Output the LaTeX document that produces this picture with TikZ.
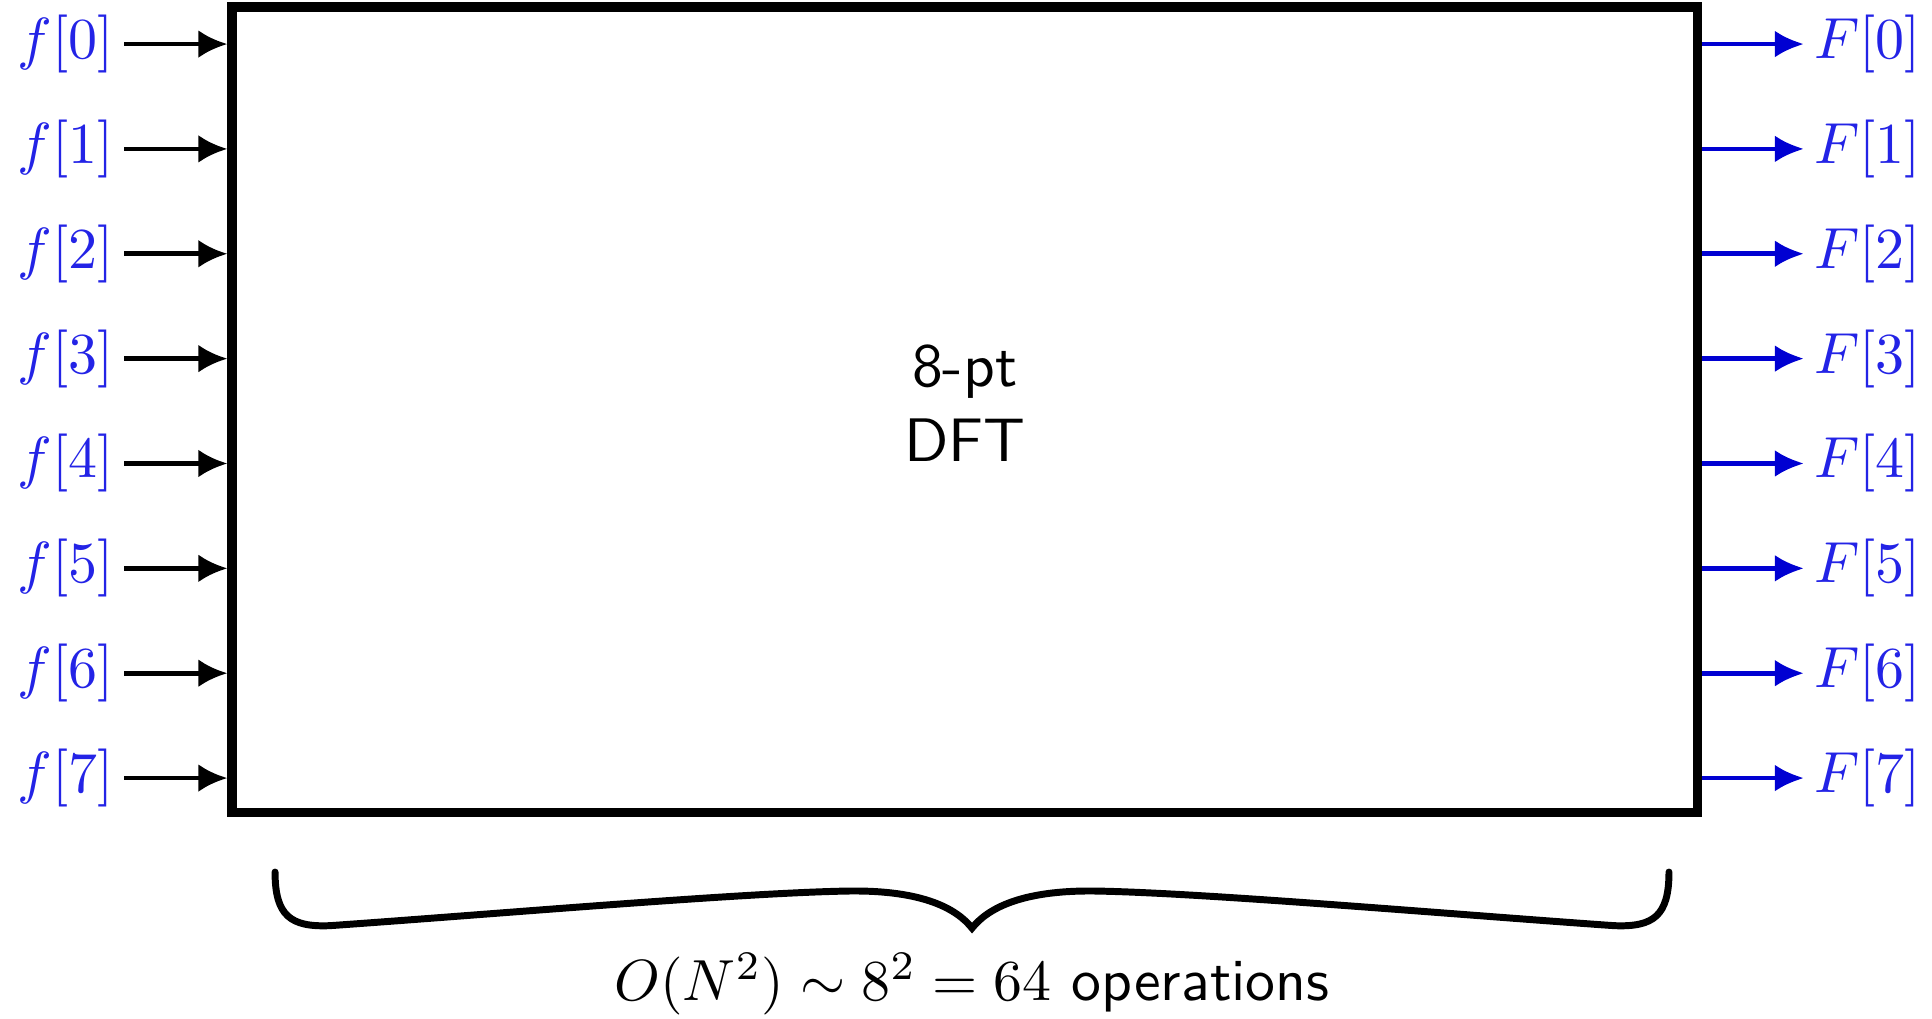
\documentclass[tikz,border=0pt]{standalone}
\usepackage{tikz}
\usetikzlibrary{arrows.meta, positioning, calc}
\usepackage{amsmath}
\usepackage{xcolor}
\definecolor{sigblue}{RGB}{0,0,210}
\definecolor{lblblue}{RGB}{35,35,230}
\tikzset{
  dftbox/.style   = {draw, ultra thick, minimum width=8.882cm, minimum height=4.882cm,
                     inner sep=0pt},
  dfttext/.style  = {align=center, font=\fontsize{10.6pt}{13pt}\sffamily},
  inarrow/.style  = {-{Latex[length=5pt, width=4.8pt]}, thick},
  outarrow/.style = {-{Latex[length=5pt, width=4.6pt]}, thick, color=sigblue},
}
\begin{document}
\begin{tikzpicture}[
    sig/.style={text=lblblue, inner sep=1.6pt, font=\fontsize{10.2pt}{12pt}\selectfont},
    bracestroke/.style={very thick, line cap=round}
]
\useasboundingbox (0,0) rectangle (11.709,6.170);
\node[dftbox] (dft) at (5.847,3.686) {};
\node[dfttext] (dftlbl) at ($(dft.center)+(0,0.04)$) {8-pt\\DFT};
\foreach \i in {0,...,7} {
    \node[sig, anchor=east] (f\i) at (0.752,5.903-0.6355*\i) {$f[\i]$};
    \node[sig, anchor=west] (F\i) at (10.933,5.903-0.6355*\i) {$F[\i]$};
    \draw[inarrow] (f\i.east) -- (f\i.east -| dft.west);
    \draw[outarrow] (F\i.west -| dft.east) -- (F\i.west);
}
% curly brace under the box
\coordinate (bl) at (1.667,0.885);
\coordinate (br) at (10.115,0.885);
\coordinate (tip) at (5.891,0.545);
\draw[bracestroke] (bl) .. controls (1.667,0.62) and (1.76,0.55) .. (2.0,0.56)
    .. controls (3.0,0.63) and (4.5,0.76) .. (5.15,0.77)
    .. controls (5.6,0.775) and (5.8,0.66) .. (tip)
    .. controls (5.982,0.66) and (6.182,0.775) .. (6.632,0.77)
    .. controls (7.282,0.76) and (8.782,0.63) .. (9.782,0.56)
    .. controls (10.022,0.55) and (10.115,0.62) .. (br);
\node[below=0.3mm of tip, font=\fontsize{10.3pt}{12pt}\selectfont] (ops)
    {$O(N^2) \sim 8^2 = 64$ \textsf{operations}};
\end{tikzpicture}
\end{document}
